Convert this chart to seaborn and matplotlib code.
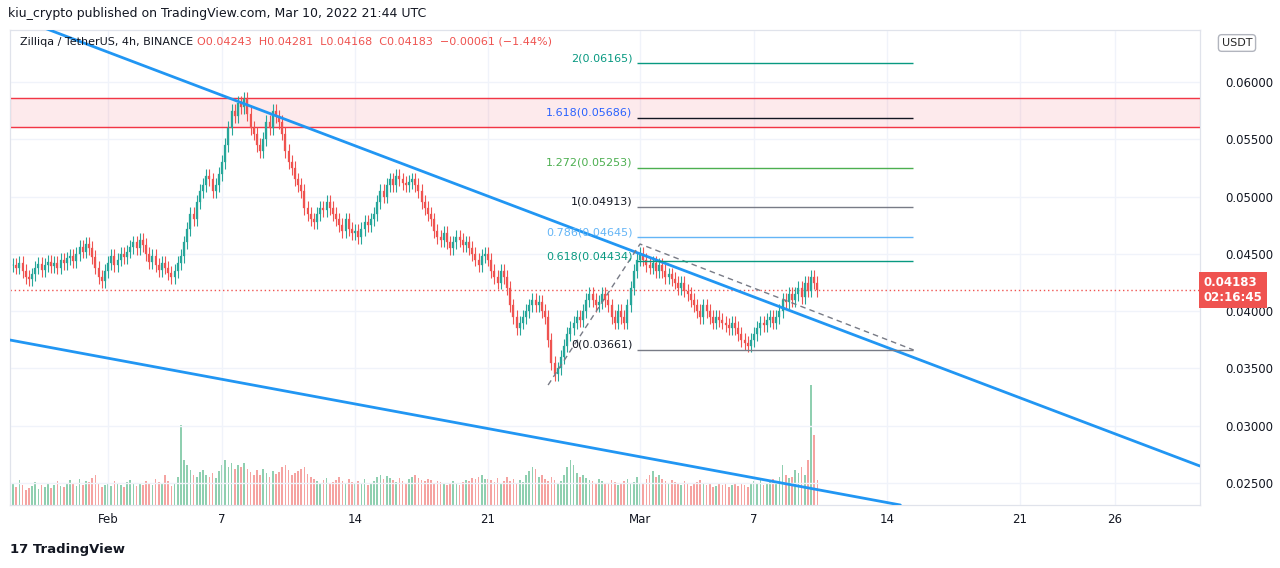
import numpy as np
import matplotlib
matplotlib.use("Agg")
import matplotlib.pyplot as plt
import seaborn as sns
import pandas as pd

# closes, 4h candles, in 1e-5 USDT, starting Jan 27 (day -5 relative to Feb 1)
closes = [
 4400,4380,4420,4350,4300,4280, 4320,4380,4410,4360,4400,4430, 4390,4420,4380,4450,4420,4460,
 4480,4440,4500,4560,4520,4590, 4550,4470,4380,4300,4260,4350, 4420,4480,4400,4450,4500,4470,
 4520,4560,4600,4550,4620,4580, 4500,4430,4480,4400,4360,4420, 4380,4330,4300,4350,4420,4480,
 4600,4720,4850,4800,4950,5050, 5100,5180,5150,5050,5100,5200, 5300,5450,5600,5750,5700,5820,
 5780,5850,5720,5600,5550,5450, 5400,5500,5650,5600,5750,5700, 5650,5550,5400,5300,5250,5150,
 5100,5050,4900,4850,4800,4780, 4850,4900,4880,4950,4900,4850, 4800,4750,4700,4800,4720,4680,
 4700,4650,4720,4780,4750,4800, 4850,4950,5050,5000,5100,5150, 5100,5180,5150,5120,5100,5130,
 5150,5100,5050,4950,4900,4850, 4800,4700,4650,4620,4680,4600, 4550,4600,4650,4620,4580,4600,
 4550,4500,4450,4400,4480,4500, 4450,4350,4300,4250,4350,4300, 4200,4050,3950,3850,3900,3950,
 4000,4050,4100,4050,4080,4000, 3950,3750,3550,3450,3500,3600, 3700,3800,3850,3900,3950,3920,
 4000,4100,4150,4100,4050,4080, 4150,4100,4050,3950,3900,4000, 3950,3900,4050,4200,4350,4450,
 4500,4450,4400,4380,4420,4350, 4400,4350,4300,4320,4280,4250, 4200,4250,4180,4150,4100,4050,
 4000,3950,4050,4000,3950,3900, 3950,3920,3900,3880,3850,3900, 3850,3800,3750,3720,3700,3750,
 3800,3850,3900,3880,3920,3950, 3900,3950,4000,4100,4080,4150, 4100,4150,4200,4120,4250,4180,
 4300,4250,4183]
volumes = [
 22,18,25,20,15,17, 19,23,16,20,18,21, 17,20,24,19,18,22, 25,21,19,26,20,24, 23,27,30,22,18,20,
 21,19,24,22,20,18, 23,25,21,19,22,20, 24,22,20,26,23,21, 30,24,19,22,28,80, 45,40,35,30,28,33,
 35,30,28,32,27,34, 40,45,38,42,36,40, 38,42,36,33,30,35, 30,36,32,28,34,31, 33,38,40,35,30,32,
 34,36,38,31,28,26, 24,22,25,27,21,23, 25,28,24,22,26,23, 21,24,22,26,20,22, 24,28,30,26,29,27,
 25,23,27,24,22,26, 28,30,27,25,24,26, 25,22,24,23,21,20, 22,24,21,20,23,25, 24,27,26,28,30,26,
 26,25,23,27,22,24, 28,24,26,22,25,23,
 30,34,38,36,28,30, 26,24,28,25,22,24, 30,38,45,40,32,28, 30,27,25,24,22,26, 24,22,21,25,23,20,
 22,24,26,21,23,28, 22,21,26,30,34,28, 30,26,24,22,25,23, 22,20,24,21,19,22, 23,25,21,20,22,18,
 19,21,20,22,18,20, 21,19,22,20,18,21, 24,22,25,20,21,23, 26,24,28,40,30,27, 28,35,32,38,30,45,
 120,70,25]
wick = 60

fib_ratios = ["2", "1.618", "1.272", "1", "0.786", "0.618", "0"]
fib_prices = [0.06165, 0.05686, 0.05253, 0.04913, 0.04645, 0.04434, 0.03661]
fib_colors = ["#089981", "#131722", "#4caf50", "#787b86", "#64b5f6", "#089981", "#787b86"]
fib_text_colors = ["#089981", "#2962ff", "#4caf50", "#131722", "#64b5f6", "#089981", "#131722"]

# trendline anchors (day offset from Feb 1, price)
upper_line = pd.DataFrame({"day": [-5.16, 57.47], "price": [0.06585, 0.02648]})
lower_line = pd.DataFrame({"day": [-5.16, 41.7], "price": [0.03748, 0.02308]})
dash_path = pd.DataFrame({"day": [23.16, 28.0, 42.4], "price": [0.03355, 0.04586, 0.03661]})
zone = (0.05607, 0.05860)
last_price = 0.04183

tick_days = [0, 6, 13, 20, 28, 34, 41, 48, 53]
tick_labels = ["Feb", "7", "14", "21", "Mar", "7", "14", "21", "26"]
price_ticks = [0.025, 0.030, 0.035, 0.040, 0.045, 0.050, 0.055, 0.060]

sns.set_style("white")
fig = plt.figure(figsize=(12.8, 5.68), dpi=100)
W, H = 1280, 568
ax = fig.add_axes([10/W, 1-505/H, 1190/W, 475/H])
axv = ax.twinx()
axv.set_zorder(0); ax.set_zorder(1); ax.patch.set_visible(False)

n = len(closes)
t = -5 + np.arange(n)/6.0
c = np.array(closes)/1e5
o = np.concatenate([[0.0440], c[:-1]])
up = c >= o
green, red = "#26a69a", "#ef5350"
cols = np.where(up, green, red)
hi = np.maximum(o, c) + wick/1e5
lo = np.minimum(o, c) - wick/1e5
w = 0.1
ax.vlines(t, lo, hi, colors=cols, lw=0.8, zorder=3)
ax.bar(t, np.maximum(np.abs(c-o), 0.00005), bottom=np.minimum(o, c), width=w, color=cols,
       edgecolor=cols, linewidth=0.2, zorder=4)

vcols = np.where(up, "#8fcfb0", "#f5a3a1")
axv.bar(t, volumes[:n], width=0.09, color=vcols, linewidth=0)
axv.set_ylim(0, 120*475/120)
axv.set_yticks([])

ax.axhspan(zone[0], zone[1], color="#f23645", alpha=0.1, zorder=1)
for yv in zone:
    ax.axhline(yv, color="#f23645", lw=1, zorder=2)

sns.lineplot(data=upper_line, x="day", y="price", ax=ax, color="#2196f3", lw=2, zorder=5)
sns.lineplot(data=lower_line, x="day", y="price", ax=ax, color="#2196f3", lw=2, zorder=5)
ax.plot(dash_path["day"], dash_path["price"], ls=(0, (4, 3)), color="#787b86", lw=1, zorder=5)

for r, p, lc, tc in zip(fib_ratios, fib_prices, fib_colors, fib_text_colors):
    ax.hlines(p, 27.84, 42.37, color=lc, lw=1, zorder=5)
    ax.text(27.6, p, f"{r}({p:.5f})", color=tc, fontsize=8, ha="right", va="bottom", zorder=6)

ax.axhline(last_price, color="#ef5350", lw=1, ls=(0, (1, 2)), zorder=2)

ax.set_xlim(-5.16, 57.47)
ax.set_ylim(0.02308, 0.06454)
ax.set_xticks(tick_days)
ax.set_xticklabels(tick_labels)
ax.yaxis.tick_right()
ax.set_yticks(price_ticks)
ax.set_yticklabels([f"{p:.5f}" for p in price_ticks])
ax.grid(True, color="#f0f3fa", lw=1, zorder=0)
ax.set_axisbelow(True)
ax.tick_params(labelsize=8.5, colors="#131722", length=0, pad=6)
ax.tick_params(axis="y", pad=18)
for a in (ax, axv):
    for s in a.spines.values():
        s.set_color("#e0e3eb")
ax.set_xlabel(""); ax.set_ylabel(""); axv.set_ylabel("")
if ax.get_legend(): ax.get_legend().remove()

ax.text(1.003, last_price, f"{last_price:.5f}\n02:16:45", transform=ax.get_yaxis_transform(),
        color="white", fontsize=8.5, fontweight="bold", ha="left", va="center",
        bbox=dict(boxstyle="square,pad=0.35", fc="#ef5350", ec="none"), zorder=10, clip_on=False)
fig.text(1237/W, 1-43/H, "USDT", fontsize=8, ha="center", va="center",
         bbox=dict(boxstyle="round,pad=0.3", fc="white", ec="#b2b5be"))
fig.text(8/W, 1-14/H, "kiu_crypto published on TradingView.com, Mar 10, 2022 21:44 UTC",
         fontsize=9, color="#131722", va="center")
fig.text(20/W, 1-42/H, "Zilliqa / TetherUS, 4h, BINANCE", fontsize=8, color="#131722", va="center")
fig.text(197/W, 1-42/H, "O0.04243  H0.04281  L0.04168  C0.04183  −0.00061 (−1.44%)",
         fontsize=8, color="#ef5350", va="center")
fig.text(10/W, 1-550/H, "17 TradingView", fontsize=9.5, fontweight="bold", color="#131722", va="center")
fig.savefig("out.png", dpi=100)
